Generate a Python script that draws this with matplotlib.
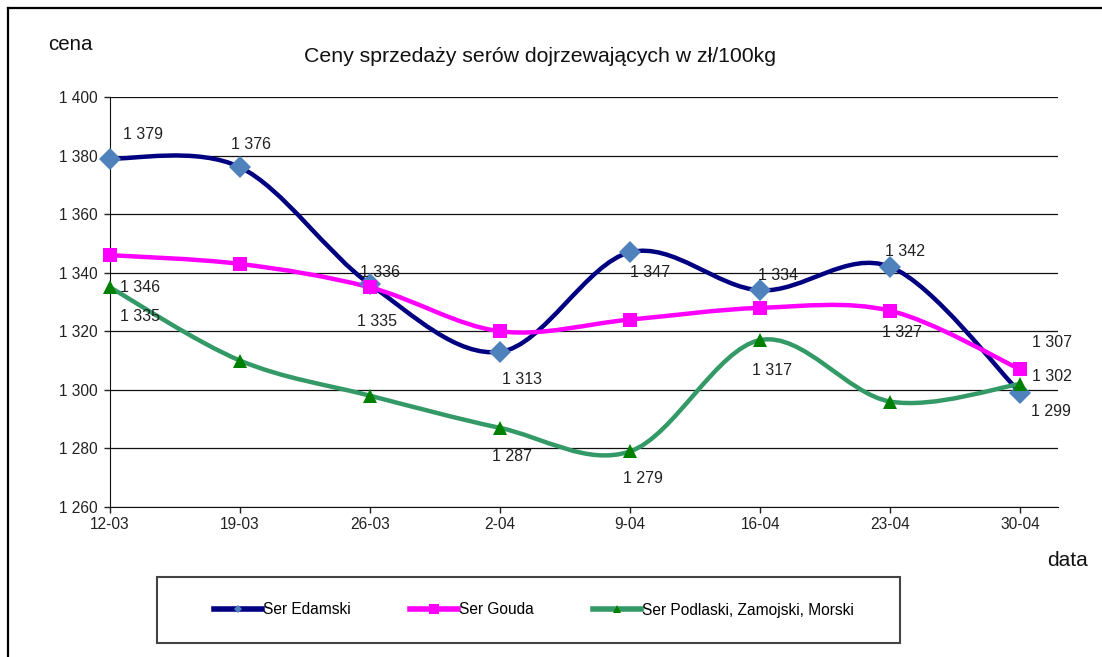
import matplotlib
matplotlib.use("Agg")
import matplotlib.pyplot as plt
from matplotlib.path import Path
from matplotlib.patches import PathPatch, Rectangle
from matplotlib.lines import Line2D

plt.rcParams['font.family'] = ['Liberation Sans', 'DejaVu Sans']

# dane
dates = ['12-03', '19-03', '26-03', '2-04', '9-04', '16-04', '23-04', '30-04']
edamski = [1379, 1376, 1336, 1313, 1347, 1334, 1342, 1299]
gouda = [1346, 1343, 1335, 1320, 1324, 1328, 1327, 1307]
podlaski = [1335, 1310, 1298, 1287, 1279, 1317, 1296, 1302]
names = ['Ser Edamski', 'Ser Gouda', 'Ser Podlaski, Zamojski, Morski']

# ktore punkty maja etykiety i przesuniecie etykiet (px)
lab_edamski = {0: (33, 24), 1: (11, 23), 2: (10, 12), 3: (22, -28),
               4: (20, -20), 5: (18, 15), 6: (15, 15), 7: (31, -19)}
lab_gouda = {0: (30, -32), 2: (7, -34), 6: (12, -22), 7: (32, 27)}
lab_podlaski = {0: (30, -29), 3: (12, -29), 4: (13, -27), 5: (12, -30), 7: (32, 8)}


def smooth_path(xs, ys):
    # wygladzona linia jak w Excelu (Catmull-Rom -> Bezier)
    pts = list(zip(xs, ys))
    verts = [pts[0]]
    codes = [Path.MOVETO]
    n = len(pts)
    for i in range(n - 1):
        p0 = pts[i - 1] if i > 0 else pts[i]
        p1 = pts[i]
        p2 = pts[i + 1]
        p3 = pts[i + 2] if i + 2 < n else pts[i + 1]
        c1 = (p1[0] + (p2[0] - p0[0]) / 6, p1[1] + (p2[1] - p0[1]) / 6)
        c2 = (p2[0] - (p3[0] - p1[0]) / 6, p2[1] - (p3[1] - p1[1]) / 6)
        verts += [c1, c2, p2]
        codes += [Path.CURVE4] * 3
    return Path(verts, codes)


def fmt(v):
    return f"{v:,}".replace(",", " ")


fig = plt.figure(figsize=(11.02, 6.57), dpi=100)
ax = fig.add_axes([110 / 1102, 150 / 657, 948 / 1102, 410 / 657])

x = list(range(len(dates)))
series = [
    (edamski, '#000080', 'D', '#4F81BD', 11, lab_edamski),
    (gouda, '#FF00FF', 's', '#FF00FF', 10, lab_gouda),
    (podlaski, '#339966', '^', '#008000', 10, lab_podlaski),
]

for k, (vals, lc, mk, mc, ms, labs) in enumerate(series):
    ax.add_patch(PathPatch(smooth_path(x, vals), facecolor='none', edgecolor=lc,
                           lw=3.2, zorder=3 + k, capstyle='round', joinstyle='round',
                           clip_on=False))
for k, (vals, lc, mk, mc, ms, labs) in enumerate(series):
    ax.plot(x, vals, linestyle='none', marker=mk, markersize=ms, color=mc,
            markeredgewidth=0, zorder=6 + k, clip_on=False)
    for i, off in labs.items():
        ax.annotate(fmt(vals[i]), (x[i], vals[i]), xytext=off, textcoords='offset pixels',
                    ha='center', va='center', fontsize=11.5, color='#222222', zorder=10)

ax.set_xlim(0, 7.29)
ax.set_ylim(1260, 1400)
ax.set_yticks(range(1260, 1401, 20))
ax.set_yticklabels([fmt(v) for v in range(1260, 1401, 20)])
ax.set_xticks(x)
ax.set_xticklabels(dates)
ax.tick_params(axis='both', labelsize=11.2, length=4, width=1, colors='#222222',
               direction='out')
ax.tick_params(axis='y', pad=5)
ax.tick_params(axis='x', pad=3)
ax.grid(axis='y', color='#111111', lw=0.9)
ax.set_axisbelow(True)
ax.spines['right'].set_visible(False)
ax.spines['top'].set_visible(False)
ax.spines['left'].set_color('#111111')
ax.spines['bottom'].set_color('#111111')

fig.text(540 / 1102, 1 - 56 / 657, 'Ceny sprzedaży serów dojrzewających w zł/100kg',
         ha='center', va='center', fontsize=15.3, color='#111111')
fig.text(70 / 1102, 1 - 44 / 657, 'cena', ha='center', va='center', fontsize=14.8, color='#111111')
fig.text(1067 / 1102, 1 - 561 / 657, 'data', ha='center', va='center', fontsize=15, color='#111111')

# ramka wykresu
fig.add_artist(Line2D([8 / 1102, 8 / 1102], [0, 1 - 8 / 657], color='black', lw=1.6))
fig.add_artist(Line2D([8 / 1102, 1], [1 - 8 / 657, 1 - 8 / 657], color='black', lw=1.6))

# legenda
fig.add_artist(Rectangle((157 / 1102, 1 - 643 / 657), 743 / 1102, 66 / 657,
                         transform=fig.transFigure, facecolor='white', edgecolor='#444444', lw=1.5))
handles = [
    Line2D([], [], color='#000080', lw=4, marker='D', markersize=4, markerfacecolor='#4F81BD',
           markeredgewidth=0),
    Line2D([], [], color='#FF00FF', lw=4, marker='s', markersize=7, markeredgewidth=0),
    Line2D([], [], color='#339966', lw=4, marker='^', markersize=6, markerfacecolor='#008000',
           markeredgewidth=0),
]
fig.legend(handles, names, loc='center', bbox_to_anchor=(534 / 1102, 1 - 610 / 657),
           ncol=3, frameon=False, fontsize=11.2, handlelength=3.1, handletextpad=0.05,
           columnspacing=3.8)

fig.savefig('out.png', dpi=100)
